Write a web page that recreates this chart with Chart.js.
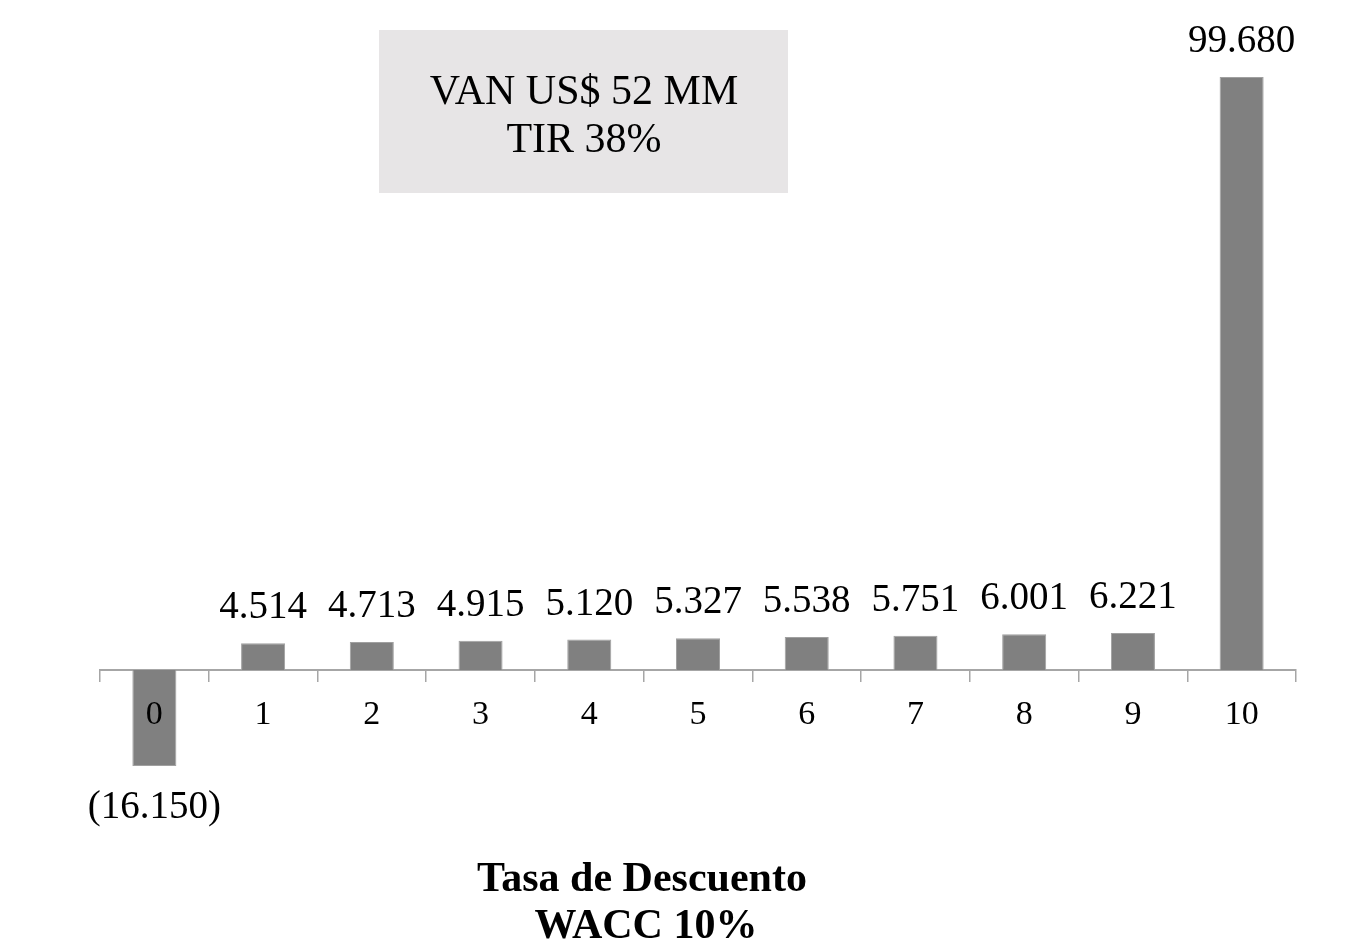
<!DOCTYPE html>
<html>
<head>
<meta charset="utf-8">
<script src="https://cdn.jsdelivr.net/npm/chart.js@4.4.1/dist/chart.umd.min.js"></script>
<style>
  html, body { margin: 0; padding: 0; background: #fff; }
  #wrap { width: 1358px; height: 948px; }
</style>
</head>
<body>
<div id="wrap"><canvas id="flujo" width="1358" height="948"></canvas></div>
<script>
// Flujo de caja por periodo (US$ miles)
const periodos = ['0', '1', '2', '3', '4', '5', '6', '7', '8', '9', '10'];
const flujos = [-16150, 4514, 4713, 4915, 5120, 5327, 5538, 5751, 6001, 6221, 99680];
const notaLineas = ['VAN US$ 52 MM', 'TIR 38%'];
const tituloLineas = ['Tasa de Descuento', 'WACC 10%'];

const SERIF = '"Liberation Serif", "Times New Roman", serif';

// miles con punto, negativos entre parentesis
function fmt(v) {
    const s = Math.abs(v).toString().replace(/\B(?=(\d{3})+(?!\d))/g, '.');
    return v < 0 ? `(${s})` : s;
}

// etiquetas de valor sobre / bajo cada barra
const valueLabels = {
    id: 'valueLabels',
    afterDatasetsDraw(chart) {
        const ctx = chart.ctx;
        const meta = chart.getDatasetMeta(0);
        ctx.save();
        ctx.font = `39px ${SERIF}`;
        ctx.fillStyle = '#000';
        ctx.textAlign = 'center';
        ctx.textBaseline = 'alphabetic';
        meta.data.forEach((bar, i) => {
            const v = flujos[i];
            if (v >= 0) ctx.fillText(fmt(v), bar.x, bar.y - 25);
            else ctx.fillText(fmt(v), bar.x, bar.y + 52);
        });
        ctx.restore();
    }
};

// recuadro gris con VAN / TIR + titulo inferior (va algo a la izquierda del centro)
const anotaciones = {
    id: 'anotaciones',
    afterDraw(chart) {
        const ctx = chart.ctx;
        ctx.save();
        ctx.fillStyle = '#e7e5e6';
        ctx.fillRect(379, 30, 409, 163);
        ctx.fillStyle = '#000';
        ctx.font = `42px ${SERIF}`;
        ctx.textAlign = 'center';
        ctx.textBaseline = 'middle';
        ctx.fillText(notaLineas[0], 584, 93);
        ctx.fillText(notaLineas[1], 584, 141);

        ctx.font = `bold 42px ${SERIF}`;
        ctx.fillText(tituloLineas[0], 642, 880);
        ctx.fillText(tituloLineas[1], 646, 927);
        ctx.restore();
    }
};

new Chart(document.getElementById('flujo'), {
    type: 'bar',
    data: {
        labels: periodos,
        datasets: [{
            data: flujos,
            backgroundColor: '#808080',
            borderColor: '#a0a0a0',
            borderWidth: 1,
            barPercentage: 0.405,
            categoryPercentage: 1
        }]
    },
    options: {
        responsive: false,
        animation: false,
        devicePixelRatio: 1,
        layout: { padding: { top: 30, left: 100, right: 62, bottom: 159 } },
        plugins: {
            legend: { display: false },
            tooltip: { enabled: false },
            title: { display: false }
        },
        scales: {
            x: {
                position: { y: 0 },
                grid: {
                    offset: true,
                    drawOnChartArea: false,
                    drawTicks: true,
                    tickLength: 11,
                    color: '#a6a6a6',
                    lineWidth: 1.5
                },
                border: { display: true, color: '#a6a6a6', width: 2 },
                ticks: {
                    z: 1,
                    color: '#000',
                    padding: 14,
                    font: { family: SERIF, size: 34 }
                }
            },
            y: {
                display: false,
                min: -20000,
                max: 107600
            }
        }
    },
    plugins: [valueLabels, anotaciones]
});
</script>
</body>
</html>
